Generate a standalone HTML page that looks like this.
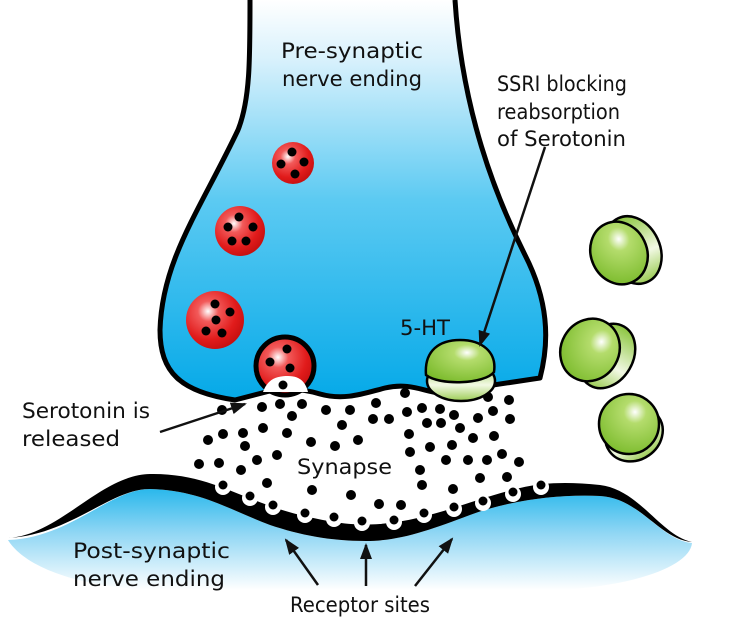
<!DOCTYPE html>
<html><head><meta charset="utf-8"><style>
html,body{margin:0;padding:0;background:#fff;}
svg{display:block;}
text{font-family:"DejaVu Sans","Liberation Sans",sans-serif;font-size:21px;fill:#111;}
</style></head><body>
<svg width="732" height="633" viewBox="0 0 732 633" xmlns="http://www.w3.org/2000/svg">
<defs>
<linearGradient id="pre" x1="0" y1="0" x2="0" y2="400" gradientUnits="userSpaceOnUse">
<stop offset="0" stop-color="#ffffff"/>
<stop offset="0.15" stop-color="#d8f1fc"/>
<stop offset="0.5" stop-color="#5ccaf2"/>
<stop offset="1" stop-color="#05a9e8"/>
</linearGradient>
<linearGradient id="post" x1="0" y1="475" x2="0" y2="590" gradientUnits="userSpaceOnUse">
<stop offset="0" stop-color="#0aaee9"/>
<stop offset="0.5" stop-color="#8fd6f4"/>
<stop offset="1" stop-color="#ffffff"/>
</linearGradient>
<radialGradient id="red" cx="0.38" cy="0.35" r="0.7">
<stop offset="0" stop-color="#fff"/>
<stop offset="0.25" stop-color="#f25a5a"/>
<stop offset="0.7" stop-color="#e11b1b"/>
<stop offset="1" stop-color="#c40f0f"/>
</radialGradient>
<radialGradient id="grn" cx="0.6" cy="0.3" r="0.75">
<stop offset="0" stop-color="#ffffff"/>
<stop offset="0.25" stop-color="#b4dc6c"/>
<stop offset="1" stop-color="#7bbb2c"/>
</radialGradient>
<linearGradient id="disc" x1="0" y1="0" x2="0" y2="1">
<stop offset="0" stop-color="#8cc63f"/>
<stop offset="0.6" stop-color="#f2f9e4"/>
<stop offset="1" stop-color="#9ccc55"/>
</linearGradient>
<marker id="ah2" markerWidth="16" markerHeight="14" refX="14" refY="7" orient="auto" markerUnits="userSpaceOnUse">
<path d="M0,1 L16,7 L0,13 Z" fill="#111"/>
</marker>
</defs>

<path d="M250,0 C250,60 250,100 238,130 C200,210 162,260 160,330 C160,372 180,392 235,400 L262,393 C280,388 300,388 320,394 C345,401 365,393 385,388 C410,382 425,392 440,393 L540,378 C550,340 548,300 525,255 C495,195 462,110 455,0 Z" fill="url(#pre)"/>
<path d="M250,0 C250,60 250,100 238,130 C200,210 162,260 160,330 C160,372 180,392 235,400 L262,393 C280,388 300,388 320,394 C345,401 365,393 385,388 C410,382 425,392 440,393 L540,378 C550,340 548,300 525,255 C495,195 462,110 455,0" fill="none" stroke="#000" stroke-width="5" stroke-linejoin="round"/>

<path d="M8,540 C70,538 110,489 150,489 C200,490 230,510 270,525 C300,535 330,541 366,541 C400,541 430,530 470,515 C510,500 560,494 600,496 C640,498 660,540 692,543 C690,565 640,585 560,590 L150,590 C60,585 20,560 8,540 Z" fill="url(#post)"/>
<path d="M8,538 C60,535 100,475 150,474 C210,473 240,500 300,515 C330,522 350,526 380,524 C430,520 470,500 520,488 C545,482 570,482 600,485 C640,490 660,535 692,542 C660,540 640,498 600,496 C560,494 510,500 470,515 C430,530 400,541 366,541 C330,541 300,535 270,525 C230,510 200,490 150,489 C110,489 70,535 8,538 Z" fill="#000"/>

<g fill="#fff">
<circle cx="223" cy="487" r="8"/><circle cx="250" cy="498" r="8"/><circle cx="273" cy="507" r="8"/>
<circle cx="305" cy="515" r="8"/><circle cx="334" cy="519" r="8"/><circle cx="362" cy="523" r="8"/>
<circle cx="394" cy="522" r="8"/><circle cx="424" cy="515" r="8"/><circle cx="454" cy="509" r="8"/>
<circle cx="483" cy="503" r="8"/><circle cx="513" cy="494" r="8"/><circle cx="541" cy="487" r="8"/>
</g>
<g fill="#000">
<circle cx="223" cy="485" r="4.5"/><circle cx="250" cy="496" r="4.5"/><circle cx="273" cy="505" r="4.5"/>
<circle cx="305" cy="513" r="4.5"/><circle cx="334" cy="517" r="4.5"/><circle cx="362" cy="521" r="4.5"/>
<circle cx="394" cy="520" r="4.5"/><circle cx="424" cy="513" r="4.5"/><circle cx="454" cy="507" r="4.5"/>
<circle cx="483" cy="501" r="4.5"/><circle cx="513" cy="492" r="4.5"/><circle cx="541" cy="485" r="4.5"/>
</g>

<circle cx="285" cy="366" r="29" fill="url(#red)" stroke="#000" stroke-width="5"/>
<path d="M263,392 C268,378 278,376 288,376 C298,376 305,380 308,392 Z" fill="#fff"/>
<g fill="#000"><circle cx="287" cy="349" r="4.5"/><circle cx="270" cy="362" r="4.5"/><circle cx="290" cy="368" r="4.5"/><circle cx="283" cy="385" r="4.5"/></g>

<circle cx="293" cy="163" r="21" fill="url(#red)"/>
<g fill="#000"><circle cx="292" cy="152" r="4.5"/><circle cx="281" cy="164" r="4.5"/><circle cx="304" cy="162" r="4.5"/><circle cx="295" cy="174" r="4.5"/></g>
<circle cx="240" cy="231" r="25" fill="url(#red)"/>
<g fill="#000"><circle cx="239" cy="217" r="4.5"/><circle cx="228" cy="227" r="4.5"/><circle cx="253" cy="227" r="4.5"/><circle cx="232" cy="241" r="4.5"/><circle cx="246" cy="241" r="4.5"/></g>
<circle cx="215" cy="320" r="29" fill="url(#red)"/>
<g fill="#000"><circle cx="215" cy="304" r="4.5"/><circle cx="230" cy="312" r="4.5"/><circle cx="216" cy="320" r="4.5"/><circle cx="206" cy="331" r="4.5"/><circle cx="222" cy="333" r="4.5"/></g>

<g fill="#000">
<circle cx="262" cy="407" r="5"/><circle cx="280" cy="404" r="5"/><circle cx="302" cy="404" r="5"/>
<circle cx="292" cy="416" r="5"/><circle cx="243" cy="433" r="5"/><circle cx="263" cy="428" r="5"/><circle cx="223" cy="434" r="5"/>
<circle cx="287" cy="433" r="5"/><circle cx="311" cy="442" r="5"/><circle cx="245" cy="446" r="5"/><circle cx="257" cy="460" r="5"/>
<circle cx="277" cy="455" r="5"/><circle cx="219" cy="463" r="5"/><circle cx="199" cy="464" r="5"/><circle cx="241" cy="470" r="5"/>
<circle cx="267" cy="483" r="5"/><circle cx="326" cy="410" r="5"/><circle cx="350" cy="410" r="5"/><circle cx="376" cy="403" r="5"/>
<circle cx="373" cy="419" r="5"/><circle cx="389" cy="419" r="5"/><circle cx="342" cy="425" r="5"/><circle cx="358" cy="440" r="5"/>
<circle cx="405" cy="393" r="5"/><circle cx="407" cy="412" r="5"/><circle cx="422" cy="408" r="5"/><circle cx="440" cy="409" r="5"/>
<circle cx="454" cy="415" r="5"/><circle cx="427" cy="423" r="5"/><circle cx="441" cy="423" r="5"/><circle cx="460" cy="428" r="5"/>
<circle cx="478" cy="418" r="5"/><circle cx="493" cy="411" r="5"/><circle cx="509" cy="400" r="5"/><circle cx="510" cy="419" r="5"/>
<circle cx="494" cy="436" r="5"/><circle cx="473" cy="438" r="5"/><circle cx="409" cy="434" r="5"/><circle cx="430" cy="447" r="5"/>
<circle cx="410" cy="452" r="5"/><circle cx="452" cy="445" r="5"/><circle cx="446" cy="460" r="5"/><circle cx="468" cy="460" r="5"/>
<circle cx="502" cy="454" r="5"/><circle cx="519" cy="462" r="5"/><circle cx="480" cy="478" r="5"/><circle cx="507" cy="477" r="5"/>
<circle cx="422" cy="485" r="5"/><circle cx="453" cy="489" r="5"/><circle cx="351" cy="495" r="5"/><circle cx="379" cy="504" r="5"/>
<circle cx="401" cy="505" r="5"/><circle cx="462" cy="396" r="5"/><circle cx="488" cy="397" r="5"/>
<circle cx="312" cy="490" r="5"/><circle cx="335" cy="446" r="5"/><circle cx="208" cy="440" r="5"/><circle cx="222" cy="410" r="5"/>
<circle cx="420" cy="470" r="5"/><circle cx="487" cy="460" r="5"/>
</g>

<ellipse cx="461" cy="381" rx="34" ry="20" fill="url(#disc)" stroke="#000" stroke-width="2.5"/>
<path d="M426,375 C424,350 440,340 460,340 C482,340 497,352 494,372 C485,384 440,386 426,375 Z" fill="url(#grn)" stroke="#000" stroke-width="2.5"/>

<g stroke="#000" stroke-width="2.5">
<ellipse cx="633" cy="250" rx="27" ry="35" transform="rotate(-25 633 250)" fill="url(#disc)"/>
<ellipse cx="619" cy="253" rx="28" ry="32" transform="rotate(-25 619 253)" fill="url(#grn)"/>
<ellipse cx="607" cy="356" rx="26" ry="34" transform="rotate(30 607 356)" fill="url(#disc)"/>
<ellipse cx="590" cy="350" rx="29" ry="32" transform="rotate(30 590 350)" fill="url(#grn)"/>
<ellipse cx="634" cy="434" rx="30" ry="26" transform="rotate(-35 634 434)" fill="url(#disc)"/>
<ellipse cx="629" cy="424" rx="30" ry="30" fill="url(#grn)"/>
</g>

<g stroke="#111" stroke-width="2.5" fill="none">
<line x1="545" y1="147" x2="480" y2="345" marker-end="url(#ah2)"/>
<line x1="160" y1="432" x2="245" y2="404" marker-end="url(#ah2)"/>
<line x1="318" y1="585" x2="286" y2="540" marker-end="url(#ah2)"/>
<line x1="366" y1="586" x2="366" y2="545" marker-end="url(#ah2)"/>
<line x1="415" y1="586" x2="452" y2="539" marker-end="url(#ah2)"/>
</g>

<text x="281" y="58" textLength="142" lengthAdjust="spacingAndGlyphs">Pre-synaptic</text>
<text x="282" y="86" textLength="140" lengthAdjust="spacingAndGlyphs">nerve ending</text>
<text x="497" y="91" textLength="130" lengthAdjust="spacingAndGlyphs">SSRI blocking</text>
<text x="497" y="119" textLength="123" lengthAdjust="spacingAndGlyphs">reabsorption</text>
<text x="497" y="146" textLength="129" lengthAdjust="spacingAndGlyphs">of Serotonin</text>
<text x="400" y="335" textLength="50" lengthAdjust="spacingAndGlyphs">5-HT</text>
<text x="22" y="418" textLength="128" lengthAdjust="spacingAndGlyphs">Serotonin is</text>
<text x="22" y="446" textLength="98" lengthAdjust="spacingAndGlyphs">released</text>
<text x="297" y="474" textLength="95" lengthAdjust="spacingAndGlyphs">Synapse</text>
<text x="73" y="558" textLength="157" lengthAdjust="spacingAndGlyphs">Post-synaptic</text>
<text x="73" y="586" textLength="152" lengthAdjust="spacingAndGlyphs">nerve ending</text>
<text x="290" y="612" textLength="140" lengthAdjust="spacingAndGlyphs">Receptor sites</text>
</svg>
</body></html>
